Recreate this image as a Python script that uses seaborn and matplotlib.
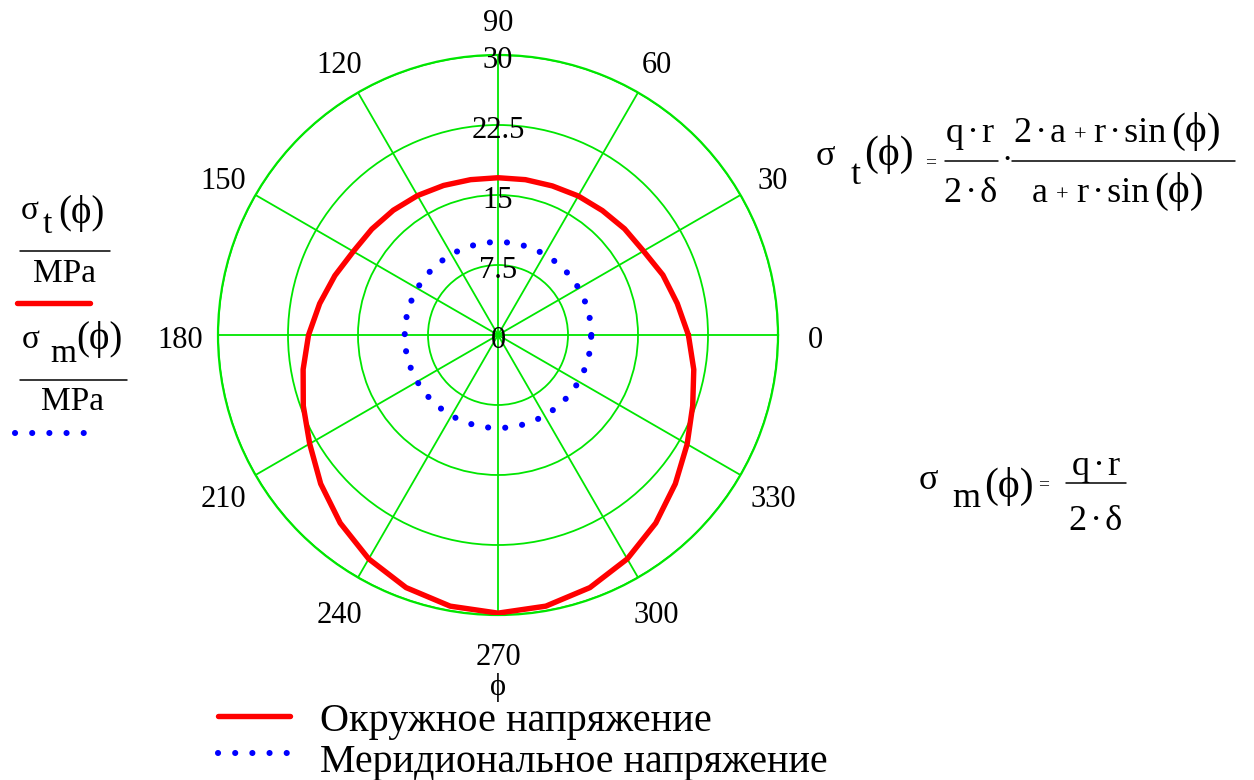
import numpy as np
import pandas as pd
import matplotlib
matplotlib.use("Agg")
import matplotlib.pyplot as plt
import seaborn as sns
from matplotlib.lines import Line2D

# ---------------- data ----------------
phi_deg = [0, 10, 20, 30, 40, 50, 60, 70, 80, 90, 100, 110, 120, 130, 140, 150,
           160, 170, 180, 190, 200, 210, 220, 230, 240, 250, 260, 270, 280, 290,
           300, 310, 320, 330, 340, 350, 360]
sigma_t = [20.4, 19.5, 18.8, 18.0, 17.7, 17.4, 17.2, 17.0, 16.9, 16.85, 16.9, 17.05,
           17.25, 17.45, 17.65, 17.9, 18.6, 19.4, 20.3, 21.2, 22.2, 23.3, 24.8, 26.3,
           27.7, 28.8, 29.5, 29.8, 29.5, 28.8, 27.7, 26.3, 24.8, 23.4, 22.2, 21.3, 20.4]
sigma_m = [10.0, 10.0, 10.0, 10.0, 10.0, 10.0, 10.0, 10.0, 10.0, 10.0, 10.0, 10.0,
           10.0, 10.0, 10.0, 10.0, 10.0, 10.0, 10.0, 10.0, 10.0, 10.0, 10.0, 10.0,
           10.0, 10.0, 10.0, 10.0, 10.0, 10.0, 10.0, 10.0, 10.0, 10.0, 10.0, 10.0, 10.0]
r_ticks = [0, 7.5, 15, 22.5, 30]
theta_ticks = [0, 30, 60, 90, 120, 150, 180, 210, 240, 270, 300, 330]
legend_labels = ["Окружное напряжение", "Меридиональное напряжение"]

# ---------------- style ----------------
sns.set_theme(style="white")
plt.rcParams["font.family"] = ["Liberation Serif", "DejaVu Serif"]
plt.rcParams["text.color"] = "black"
GREEN = "#00E600"
RED = "#FF0000"
BLUE = "#0000FF"
DOTS = (0, (0.01, 2.8))
HS = "\u200a"  # hair space (Mathcad-like spacing round the dot operator)

W, H = 1254, 780
fig = plt.figure(figsize=(W / 100, H / 100), dpi=100)
fig.patch.set_facecolor("white")


def fx(x):
    return x / W


def fy(y):
    return 1 - y / H


def put(s, x, y, size, ha="left", va="baseline"):
    fig.text(fx(x), fy(y), s, fontsize=size, ha=ha, va=va, color="black")


def hline(x0, x1, y, color="black", lw=1.1, **kw):
    fig.add_artist(Line2D([fx(x0), fx(x1)], [fy(y), fy(y)], transform=fig.transFigure,
                          color=color, lw=lw, **kw))


ax = fig.add_axes([218 / W, 1 - 615 / H, 560 / W, 560 / H], projection="polar")
ax.set_facecolor("white")

df_t = pd.DataFrame({"theta": np.deg2rad(phi_deg), "sigma": sigma_t})
df_m = pd.DataFrame({"theta": np.deg2rad(phi_deg), "sigma": sigma_m})

sns.lineplot(data=df_t, x="theta", y="sigma", ax=ax, color=RED, lw=3.9,
             sort=False, estimator=None, zorder=4)
sns.lineplot(data=df_m, x="theta", y="sigma", ax=ax, color=BLUE, lw=4.4,
             linestyle=DOTS, dash_capstyle="round", sort=False, estimator=None, zorder=4)

ax.set_ylim(0, 30)
ax.set_yticks(r_ticks[1:])
ax.set_yticklabels([])
ax.set_xticks(np.deg2rad(theta_ticks))
ax.set_xticklabels([])
ax.tick_params(length=0)
ax.grid(True, color=GREEN, lw=1.3)
ax.spines["polar"].set_color(GREEN)
ax.spines["polar"].set_linewidth(1.6)
ax.set_xlabel("")
ax.set_ylabel("")

for r in r_ticks:
    ax.annotate(str(r), xy=(np.pi / 2, r), xytext=(0, -4), textcoords="offset points",
                ha="center", va="center", fontsize=22, color="black", zorder=5)
for a in theta_ticks:
    ax.annotate(str(a), xy=(np.deg2rad(a), 34.0), xytext=(0, -4), textcoords="offset points",
                ha="center", va="center", fontsize=22, color="black",
                annotation_clip=False)

# axis variable label
put("ϕ", 498, 688, 22, ha="center", va="center")

# ---------------- left legend (Mathcad style) ----------------
put("σ", 21, 219, 24)
put("t", 43, 233, 24)
put("(ϕ)", 58, 223, 28)
hline(20, 110, 251)
put("MPa", 64, 282, 24, ha="center")
hline(17, 90, 303, color=RED, lw=3.9)
put("σ", 22, 348, 24)
put("m", 50, 362, 24)
put("(ϕ)", 76, 349, 28)
hline(20, 127, 380)
put("MPa", 73, 410, 24, ha="center")
hline(15, 86, 433, color=BLUE, lw=4.4, linestyle=DOTS, dash_capstyle="round")

# ---------------- bottom legend ----------------
hline(218, 290, 716, color=RED, lw=3.9)
put(legend_labels[0], 320, 731, 29)
hline(218, 289, 753, color=BLUE, lw=4.4, linestyle=DOTS, dash_capstyle="round")
put(legend_labels[1], 320, 772, 28.8)

# ---------------- formula 1 ----------------
put("σ", 816, 165, 26)
put("t", 851, 184, 26)
put("(ϕ)", 864, 165, 30)
put("=", 925, 163, 14, va="center")
put("q" + HS + "·" + HS + "r", 970, 142, 26, ha="center")
hline(945, 998, 161)
put("2" + HS + "·" + HS + "δ", 971, 202, 26, ha="center")
put("·", 1001, 161, 24, va="center")
put("2" + HS + "·" + HS + "a", 1014, 142, 26)
put("+", 1074, 141, 16)
put("r" + HS + "·" + HS + "sin", 1094, 142, 26)
put("(ϕ)", 1171, 142, 30)
hline(1012, 1235, 161)
put("a", 1032, 202, 26)
put("+", 1056, 201, 16)
put("r" + HS + "·" + HS + "sin", 1077, 202, 26)
put("(ϕ)", 1154, 202, 30)

# ---------------- formula 2 ----------------
put("σ", 919, 489, 26)
put("m", 952, 507, 26)
put("(ϕ)", 984, 497, 30)
put("=", 1038, 485, 14, va="center")
put("q" + HS + "·" + HS + "r", 1096, 475, 26, ha="center")
hline(1066, 1126, 483)
put("2" + HS + "·" + HS + "δ", 1096, 530, 26, ha="center")

fig.savefig("out.png", dpi=100, facecolor="white")
